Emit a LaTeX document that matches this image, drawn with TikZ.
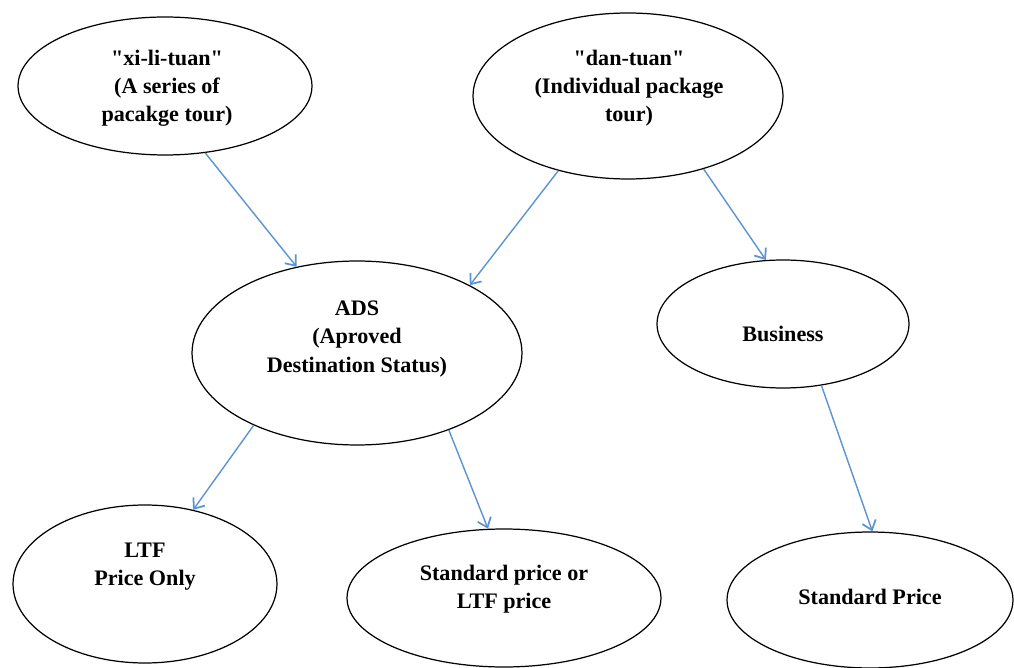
\documentclass[tikz,border=0pt]{standalone}
\usepackage{fontspec}
\setmainfont{Liberation Serif}
\usetikzlibrary{shapes.geometric,arrows.meta}
\definecolor{linkblue}{RGB}{91,148,210}
\begin{document}
\begin{tikzpicture}[x=0.02cm,y=-0.02cm,
  bubble/.style={draw,ellipse,line width=0.7pt,inner sep=0pt},
  txt/.style={align=center,font=\fontsize{12.6}{16}\selectfont\bfseries},
  link/.style={draw=linkblue,line width=0.8pt,-{Straight Barb[length=5pt,width=8pt,line width=1pt]}}]
\useasboundingbox (0,0) rectangle (1014,668);
% ellipses
\node[bubble,minimum width=5.88cm,minimum height=2.76cm] (xili) at (165,86) {};
\node[bubble,minimum width=6.2cm,minimum height=3.32cm] (dan) at (628,96) {};
\node[bubble,minimum width=6.6cm,minimum height=3.68cm] (ads) at (357,353) {};
\node[bubble,minimum width=5.04cm,minimum height=2.56cm] (business) at (783,324) {};
\node[bubble,minimum width=5.28cm,minimum height=3.16cm] (ltf) at (145,584) {};
\node[bubble,minimum width=6.28cm,minimum height=2.76cm] (stdltf) at (504,598) {};
\node[bubble,minimum width=5.72cm,minimum height=2.72cm] (stdprice) at (870,600) {};
% texts
\node[txt] (xili-t) at (167,88) {\textquotedbl xi-li-tuan\textquotedbl\\(A series of\\pacakge tour)};
\node[txt] (dan-t) at (629,88) {\textquotedbl dan-tuan\textquotedbl\\(Individual package\\tour)};
\node[txt] (ads-t) at (357,339) {ADS\\(Aproved\\Destination Status)};
\node[txt] (business-t) at (783,334) {Business};
\node[txt] (ltf-t) at (145,567) {LTF\\Price Only};
\node[txt] (stdltf-t) at (504,589) {Standard price or\\LTF price};
\node[txt] (stdprice-t) at (870,597) {Standard Price};
% arrows
\draw[link] (xili.-59) -- (ads.125);
\draw[link] (dan.-133) -- (ads.31);
\draw[link] (dan.-44) -- (business.105);
\draw[link] (ads.-145) -- (ltf.57);
\draw[link] (ads.-40) -- (stdltf.103);
\draw[link] (business.-58) -- (stdprice.88);
\end{tikzpicture}
\end{document}
